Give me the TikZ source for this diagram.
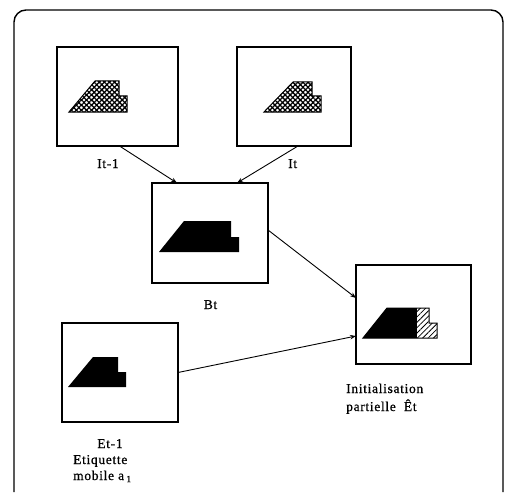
\documentclass[tikz,border=0pt]{standalone}
\usepackage{fontspec}
\setmainfont{Liberation Serif}
\newfontfamily\lblfont[LetterSpace=5,FakeBold=0.8]{Liberation Serif}
\usetikzlibrary{patterns.meta,arrows.meta,calc}
\tikzset{
  imgbox/.style={draw=black,line width=1.3pt,minimum width=#1,inner sep=0pt,outer sep=0pt},
  lbl/.style={font=\lblfont\fontsize{13.5}{16}\selectfont,inner sep=0pt,anchor=base west},
  lblc/.style={font=\lblfont\fontsize{13.5}{16}\selectfont,inner sep=0pt,anchor=base},
  arr/.style={line width=0.9pt,-{Stealth[length=6pt,width=4.5pt]}},
  hatchA/.style={pattern={Lines[angle=45,distance=3.6pt,line width=1.3pt]}},
  hatchB/.style={pattern={Lines[angle=-45,distance=3.6pt,line width=1.3pt]}},
  hatchE/.style={pattern={Lines[angle=45,distance=3.8pt,line width=0.8pt]}},
}
\begin{document}
\begin{tikzpicture}[x=1pt,y=-1pt]
\useasboundingbox (0,0) rectangle (505,492);
% outer frame
\draw[line width=1.4pt,rounded corners=12pt] (14,492) -- (14,10) -- (503,10) -- (503,492);

% boxes
\node[imgbox=121pt,minimum height=99pt] (i1) at (117.5,96.5) {};
\node[imgbox=114pt,minimum height=99pt] (i2) at (294,96.5) {};
\node[imgbox=116pt,minimum height=100pt] (bt) at (210,233) {};
\node[imgbox=116pt,minimum height=99pt] (e1) at (120,372.5) {};
\node[imgbox=115pt,minimum height=99pt] (et) at (413.5,314.5) {};

% shapes
\fill[hatchA] (69,112) -- (95,81) -- (119,81) -- (119,96) -- (127,96) -- (127,112) -- cycle;
\fill[hatchB] (69,112) -- (95,81) -- (119,81) -- (119,96) -- (127,96) -- (127,112) -- cycle;
\draw[line width=1pt] (69,112) -- (95,81) -- (119,81) -- (119,96) -- (127,96) -- (127,112) -- cycle;

\fill[hatchA] (264,112) -- (293,82) -- (312,82) -- (312,96) -- (321,96) -- (321,112) -- cycle;
\fill[hatchB] (264,112) -- (293,82) -- (312,82) -- (312,96) -- (321,96) -- (321,112) -- cycle;
\draw[line width=1pt] (264,112) -- (293,82) -- (312,82) -- (312,96) -- (321,96) -- (321,112) -- cycle;

\fill[black] (159,252) -- (184,221) -- (231,221) -- (231,237) -- (239,237) -- (239,252) -- cycle;

\fill[black] (68,387) -- (93,357) -- (118,357) -- (118,372) -- (126,372) -- (126,387) -- cycle;

\begin{scope}
\clip (363,338) -- (387,308) -- (429,308) -- (429,323) -- (437,323) -- (437,338) -- cycle;
\fill[black] (360,305) rectangle (417,340);
\fill[hatchE] (417,305) rectangle (440,340);
\end{scope}
\draw[line width=1pt] (363,338) -- (387,308) -- (429,308) -- (429,323) -- (437,323) -- (437,338) -- cycle;

% arrows
\draw[arr] ([xshift=2pt]i1.south) -- ([xshift=25pt]bt.north west);
\draw[arr] ([xshift=4pt]i2.south) -- ([xshift=-31pt]bt.north east);
\draw[arr] ([yshift=3pt]bt.east) -- ([yshift=-33pt]et.north west);
\draw[arr] (e1.east) -- ([yshift=28pt]et.south west);

% labels
\node[lbl] (li1) at (97,168) {It-1};
\node[lbl] (li2) at (288,168) {It};
\node[lblc] (lbt) at (210.5,309) {Bt};
\node[lbl] (lin1) at (346,393) {Initialisation};
\node[lbl] (lin2) at (346,411) {partielle\ \ Êt};
\node[lblc] (le1) at (110,448) {Et-1};
\node[lbl] (le2) at (73,464) {Etiquette};
\node[lbl] (le3) at (73,480) {mobile a\,\textsubscript{1}};
\end{tikzpicture}
\end{document}
